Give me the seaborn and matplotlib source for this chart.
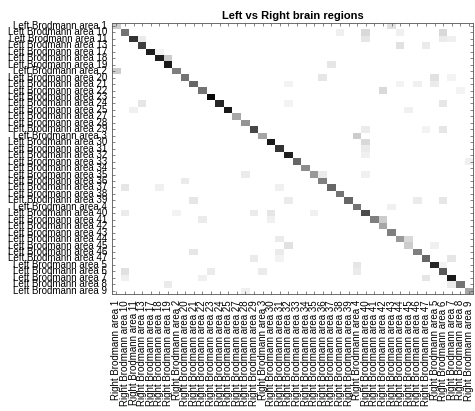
import numpy as np
import pandas as pd
import matplotlib
matplotlib.use('Agg')
import matplotlib.pyplot as plt
import seaborn as sns
from matplotlib import font_manager

# Brodmann areas, in the (string-sorted) order used on both axes
areas = ['1', '10', '11', '13', '17', '18', '19', '2', '20', '21', '22', '23', '24', '25',
         '27', '28', '29', '3', '30', '31', '32', '33', '34', '35', '36', '37', '38', '39',
         '4', '40', '41', '42', '43', '44', '45', '46', '47', '5', '6', '7', '8', '9']
left_labels = ['Left Brodmann area ' + a for a in areas]
right_labels = ['Right Brodmann area ' + a for a in areas]

# diagonal (same area left/right)
diag_vals = [0.20, 0.55, 0.80, 0.75, 0.88, 0.88, 0.90, 0.50, 0.55, 0.60, 0.55, 0.97, 0.85, 0.90,
             0.35, 0.42, 0.72, 0.35, 0.90, 0.80, 0.88, 0.60, 0.45, 0.40, 0.50, 0.60, 0.55, 0.60,
             0.55, 0.70, 0.50, 0.35, 0.50, 0.40, 0.20, 0.50, 0.60, 0.85, 0.65, 0.90, 0.55, 0.35]

# off-diagonal weak cells
off_rows = [0, 1, 1, 1, 1, 2, 2, 2, 2, 3, 3, 4, 5, 6, 7, 8, 8, 8, 9, 9, 9, 9, 10, 10,
            12, 12, 12, 13, 13, 16, 16, 16, 17, 18, 19, 20, 21, 23, 23, 23, 24, 25, 25, 25,
            27, 27, 27, 27, 28, 29, 29, 29, 29, 29, 30, 30, 30, 33, 33, 34, 34, 35, 35,
            36, 36, 36, 37, 37, 38, 38, 38, 38, 39, 39, 39, 40, 40, 41]
off_cols = [32, 26, 29, 33, 38, 3, 29, 38, 39, 33, 36, 5, 6, 25, 0, 24, 37, 39, 20, 33, 35, 37, 31, 40,
            3, 20, 38, 2, 34, 29, 36, 38, 28, 29, 29, 29, 41, 15, 24, 29, 8, 1, 5, 19,
            9, 20, 35, 38, 32, 1, 7, 16, 18, 23, 10, 18, 31, 19, 34, 20, 37, 9, 19,
            16, 19, 39, 28, 38, 1, 11, 17, 28, 1, 10, 36, 6, 39, 15]
off_vals = [0.12, 0.06, 0.15, 0.06, 0.15, 0.08, 0.10, 0.08, 0.06, 0.12, 0.08, 0.05, 0.20, 0.10,
            0.20, 0.10, 0.12, 0.05, 0.05, 0.05, 0.06, 0.08, 0.15, 0.05,
            0.10, 0.05, 0.10, 0.06, 0.06, 0.08, 0.05, 0.10, 0.20, 0.15, 0.08, 0.06, 0.06,
            0.08, 0.08, 0.06, 0.08, 0.10, 0.06, 0.06,
            0.10, 0.08, 0.08, 0.10, 0.06, 0.08, 0.05, 0.08, 0.10, 0.06, 0.08, 0.06, 0.20,
            0.08, 0.15, 0.12, 0.06, 0.10, 0.08,
            0.08, 0.05, 0.10, 0.10, 0.05, 0.12, 0.08, 0.08, 0.08, 0.06, 0.06, 0.10, 0.08, 0.08, 0.06]

n = len(areas)
mat = np.zeros((n, n))
mat[np.arange(n), np.arange(n)] = diag_vals
mat[off_rows, off_cols] = off_vals
df = pd.DataFrame(mat, index=left_labels, columns=right_labels)

installed = {f.name for f in font_manager.fontManager.ttflist}
font = 'Liberation Sans' if 'Liberation Sans' in installed else 'DejaVu Sans'
plt.rcParams['font.family'] = [font, 'DejaVu Sans']

fig = plt.figure(figsize=(4.75, 4.11), dpi=100)
ax = fig.add_axes([0.2358, 0.2847, 0.7606, 0.660])
sns.heatmap(df, cmap='gray_r', vmin=0, vmax=1, cbar=False, ax=ax,
            xticklabels=True, yticklabels=True)

ax.set_title('Left vs Right brain regions', fontsize=8, fontweight='bold', pad=3)
ax.tick_params(axis='both', direction='in', length=2.5, width=0.5, color='#555555',
               top=True, right=True, labelsize=7)
ax.tick_params(axis='y', pad=3.5)
ax.tick_params(axis='x', pad=4.5)
plt.setp(ax.get_xticklabels(), rotation=90)
plt.setp(ax.get_yticklabels(), rotation=0)
for sp in ax.spines.values():
    sp.set_visible(True)
    sp.set_color('#555555')
    sp.set_linewidth(0.6)
ax.set_xlabel('')
ax.set_ylabel('')

fig.savefig('out.png', dpi=100)
